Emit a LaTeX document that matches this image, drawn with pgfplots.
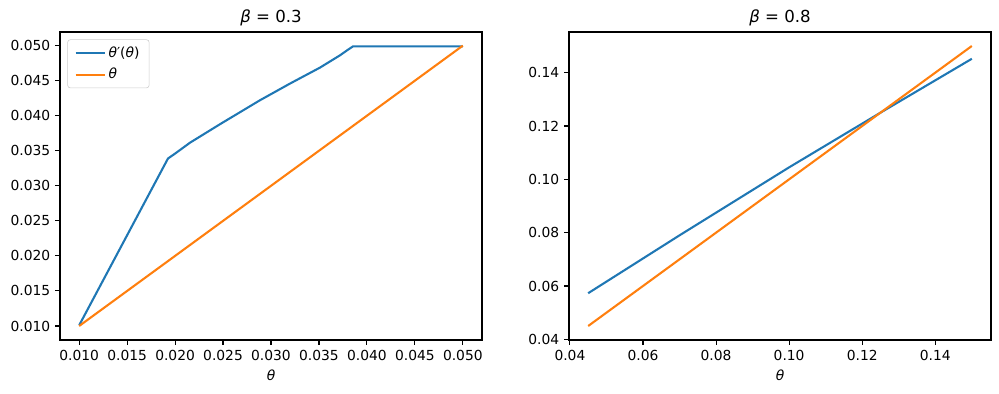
\documentclass[border=0pt]{standalone}
\usepackage{fontspec}
\setmainfont{DejaVu Sans}
\usepackage{pgfplots}
\pgfplotsset{compat=1.18}
\definecolor{tabblue}{HTML}{1F77B4}
\definecolor{taborange}{HTML}{FF7F0E}
\pgfplotsset{
  mpl/.style={
    scale only axis,
    width=303.84bp, height=221.76bp,
    axis line style={line width=0.8bp},
    tick align=outside,
    major tick length=3.5bp,
    tick style={line width=0.8bp, black},
    xtick pos=left, ytick pos=left,
    scaled ticks=false,
    /pgf/number format/assume math mode=true,
    tick label style={font=\fontsize{10}{12}\selectfont},
    xlabel style={font=\fontsize{10}{12}\selectfont},
    title style={font=\fontsize{12}{14}\selectfont, yshift=-5bp},
    every axis plot/.append style={line width=1.5bp, line join=round},
  }
}
\begin{document}
\begin{tikzpicture}
\begin{axis}[mpl,
  xmin=0.008, xmax=0.052, ymin=0.008, ymax=0.05195,
  xtick={0.010,0.015,0.020,0.025,0.030,0.035,0.040,0.045,0.050},
  ytick={0.010,0.015,0.020,0.025,0.030,0.035,0.040,0.045,0.050},
  xticklabel style={/pgf/number format/.cd, fixed, fixed zerofill, precision=3},
  yticklabel style={/pgf/number format/.cd, fixed, fixed zerofill, precision=3},
  title={{\itshape β} = 0.3},
  xlabel={\itshape θ},
  legend cell align=left,
  legend style={at={(0.0174,0.976)}, anchor=north west, draw=black!20, rounded corners=2bp,
    font=\fontsize{10}{12}\selectfont, inner xsep=5bp, inner ysep=3bp, row sep=2.5bp},
  legend image code/.code={\draw[line width=1.5bp] (0bp,0bp) -- (21bp,0bp);},
]
\addplot[tabblue, draw=tabblue] coordinates {
(0.0100,0.0101) (0.01926,0.0339) (0.0200,0.03460) (0.02155,0.03615) (0.02468,0.03879)
(0.02885,0.04221) (0.03198,0.04459) (0.03511,0.04687) (0.03719,0.04862) (0.03790,0.04930)
(0.03855,0.04990) (0.0500,0.04990)
};
\addlegendentry{{\itshape θ}′({\itshape θ})}
\addplot[taborange, draw=taborange] coordinates {(0.010,0.010) (0.050,0.050)};
\addlegendentry{\itshape θ}
\end{axis}
\begin{axis}[mpl, at={(366.48bp,0)},
  xmin=0.03975, xmax=0.15525, ymin=0.03975, ymax=0.15525,
  xtick={0.04,0.06,0.08,0.10,0.12,0.14},
  ytick={0.04,0.06,0.08,0.10,0.12,0.14},
  xticklabel style={/pgf/number format/.cd, fixed, fixed zerofill, precision=2},
  yticklabel style={/pgf/number format/.cd, fixed, fixed zerofill, precision=2},
  title={{\itshape β} = 0.8},
  xlabel={\itshape θ},
]
\addplot[tabblue] coordinates {
(0.045,0.0573) (0.070,0.0790) (0.100,0.1045) (0.125,0.1250) (0.150,0.1452)
};
\addplot[taborange] coordinates {(0.045,0.045) (0.150,0.150)};
\end{axis}
\pgfresetboundingbox
\path (-43.2bp,-38.88bp) rectangle (676.08bp,244.8bp);
\end{tikzpicture}
\end{document}
